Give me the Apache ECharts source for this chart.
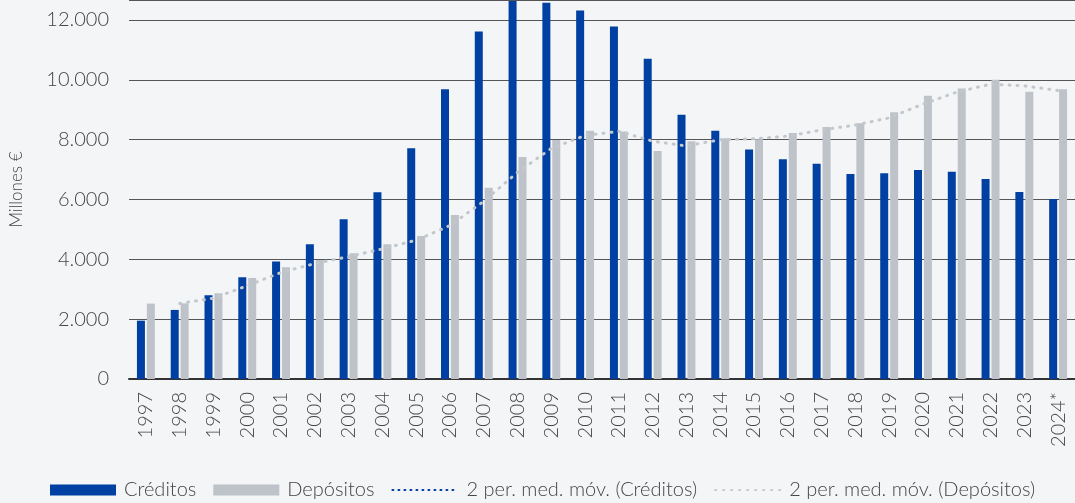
<!DOCTYPE html>
<html lang="es">
<head>
    <meta charset="UTF-8">
    <title>Créditos y depósitos</title>
    <script src="https://cdn.jsdelivr.net/npm/echarts@6/dist/echarts.min.js"></script>
    <style>
        html, body { margin: 0; padding: 0; background: #f4f5f7; }
        #chart { width: 1075px; height: 503px; }
    </style>
</head>
<body>
<div id="chart"></div>
<script type="text/javascript">
    var years = ['1997', '1998', '1999', '2000', '2001', '2002', '2003', '2004', '2005', '2006',
        '2007', '2008', '2009', '2010', '2011', '2012', '2013', '2014', '2015', '2016',
        '2017', '2018', '2019', '2020', '2021', '2022', '2023', '2024*'];
    var creditos = [1950, 2310, 2800, 3400, 3925, 4505, 5340, 6245, 7715, 9690,
        11615, 12640, 12575, 12320, 11780, 10710, 8830, 8295, 7670, 7345,
        7200, 6855, 6880, 6990, 6925, 6690, 6255, 6020];
    var depositos = [2520, 2530, 2865, 3380, 3735, 3980, 4200, 4505, 4780, 5485,
        6390, 7425, 7990, 8295, 8270, 7625, 7950, 8050, 8015, 8225,
        8425, 8550, 8915, 9465, 9710, 10000, 9600, 9690];
    // media movil 2 periodos (solo la de depositos aparece dibujada)
    var mediaDepositos = ['-', 2525, 2700, 3120, 3560, 3860, 4090, 4350, 4640, 5130,
        5940, 6910, 7710, 8140, 8280, 7950, 7790, 8000, 8030, 8120,
        8325, 8490, 8730, 9190, 9590, 9855, 9800, 9645];
    var mediaCreditos = [];

    var font = 'Lato, "DejaVu Sans", sans-serif';
    var textColor = '#454545';

    var chart = echarts.init(document.getElementById('chart'));
    chart.setOption({
        backgroundColor: '#f4f5f7',
        animation: false,
        grid: { left: 127, width: 951, top: 0, bottom: 124 },
        legend: {
            left: 45,
            top: 475,
            itemWidth: 66,
            itemHeight: 11,
            itemGap: 17,
            textStyle: { fontFamily: font, fontSize: 20, color: textColor, fontWeight: 300, padding: [0, 0, 0, 3] },
            data: [
                { name: 'Créditos', icon: 'rect' },
                { name: 'Depósitos', icon: 'rect' },
                { name: '2 per. med. móv. (Créditos)', itemStyle: { opacity: 0 } },
                { name: '2 per. med. móv. (Depósitos)', itemStyle: { opacity: 0 } }
            ]
        },
        xAxis: {
            type: 'category',
            data: years,
            axisLine: { lineStyle: { color: '#333', width: 2 } },
            axisTick: { show: false },
            axisLabel: {
                rotate: 90,
                margin: 13,
                interval: 0,
                fontFamily: font,
                fontSize: 20,
                fontWeight: 300,
                color: textColor
            }
        },
        yAxis: {
            type: 'value',
            min: 0,
            max: 12670,
            interval: 2000,
            name: 'Millones €',
            nameLocation: 'middle',
            nameGap: 104,
            nameTextStyle: { fontFamily: font, fontSize: 17, fontWeight: 300, color: textColor },
            axisLine: { show: false },
            axisTick: { show: false },
            splitLine: { lineStyle: { color: '#555', width: 1 } },
            axisLabel: {
                margin: 20,
                showMaxLabel: false,
                fontFamily: font,
                fontSize: 20,
                fontWeight: 300,
                color: textColor,
                formatter: function (v) {
                    return String(v).replace(/\B(?=(\d{3})+(?!\d))/g, '.');
                }
            }
        },
        series: [
            {
                name: 'Créditos',
                type: 'bar',
                data: creditos,
                barWidth: 8,
                barGap: '24%',
                itemStyle: { color: '#0040a3' }
            },
            {
                name: 'Depósitos',
                type: 'bar',
                data: depositos,
                barWidth: 8,
                itemStyle: { color: '#bdc3c8' }
            },
            {
                name: '2 per. med. móv. (Créditos)',
                type: 'line',
                data: mediaCreditos,
                symbol: 'none',
                itemStyle: { color: '#0040a3' },
                lineStyle: { color: '#0040a3', width: 3, type: [1, 5], cap: 'round' }
            },
            {
                name: '2 per. med. móv. (Depósitos)',
                type: 'line',
                data: mediaDepositos,
                symbol: 'none',
                z: 5,
                itemStyle: { color: '#c3c8cc' },
                lineStyle: { color: '#c3c8cc', width: 3, type: [1, 7], cap: 'round' }
            }
        ]
    });
</script>
</body>
</html>
